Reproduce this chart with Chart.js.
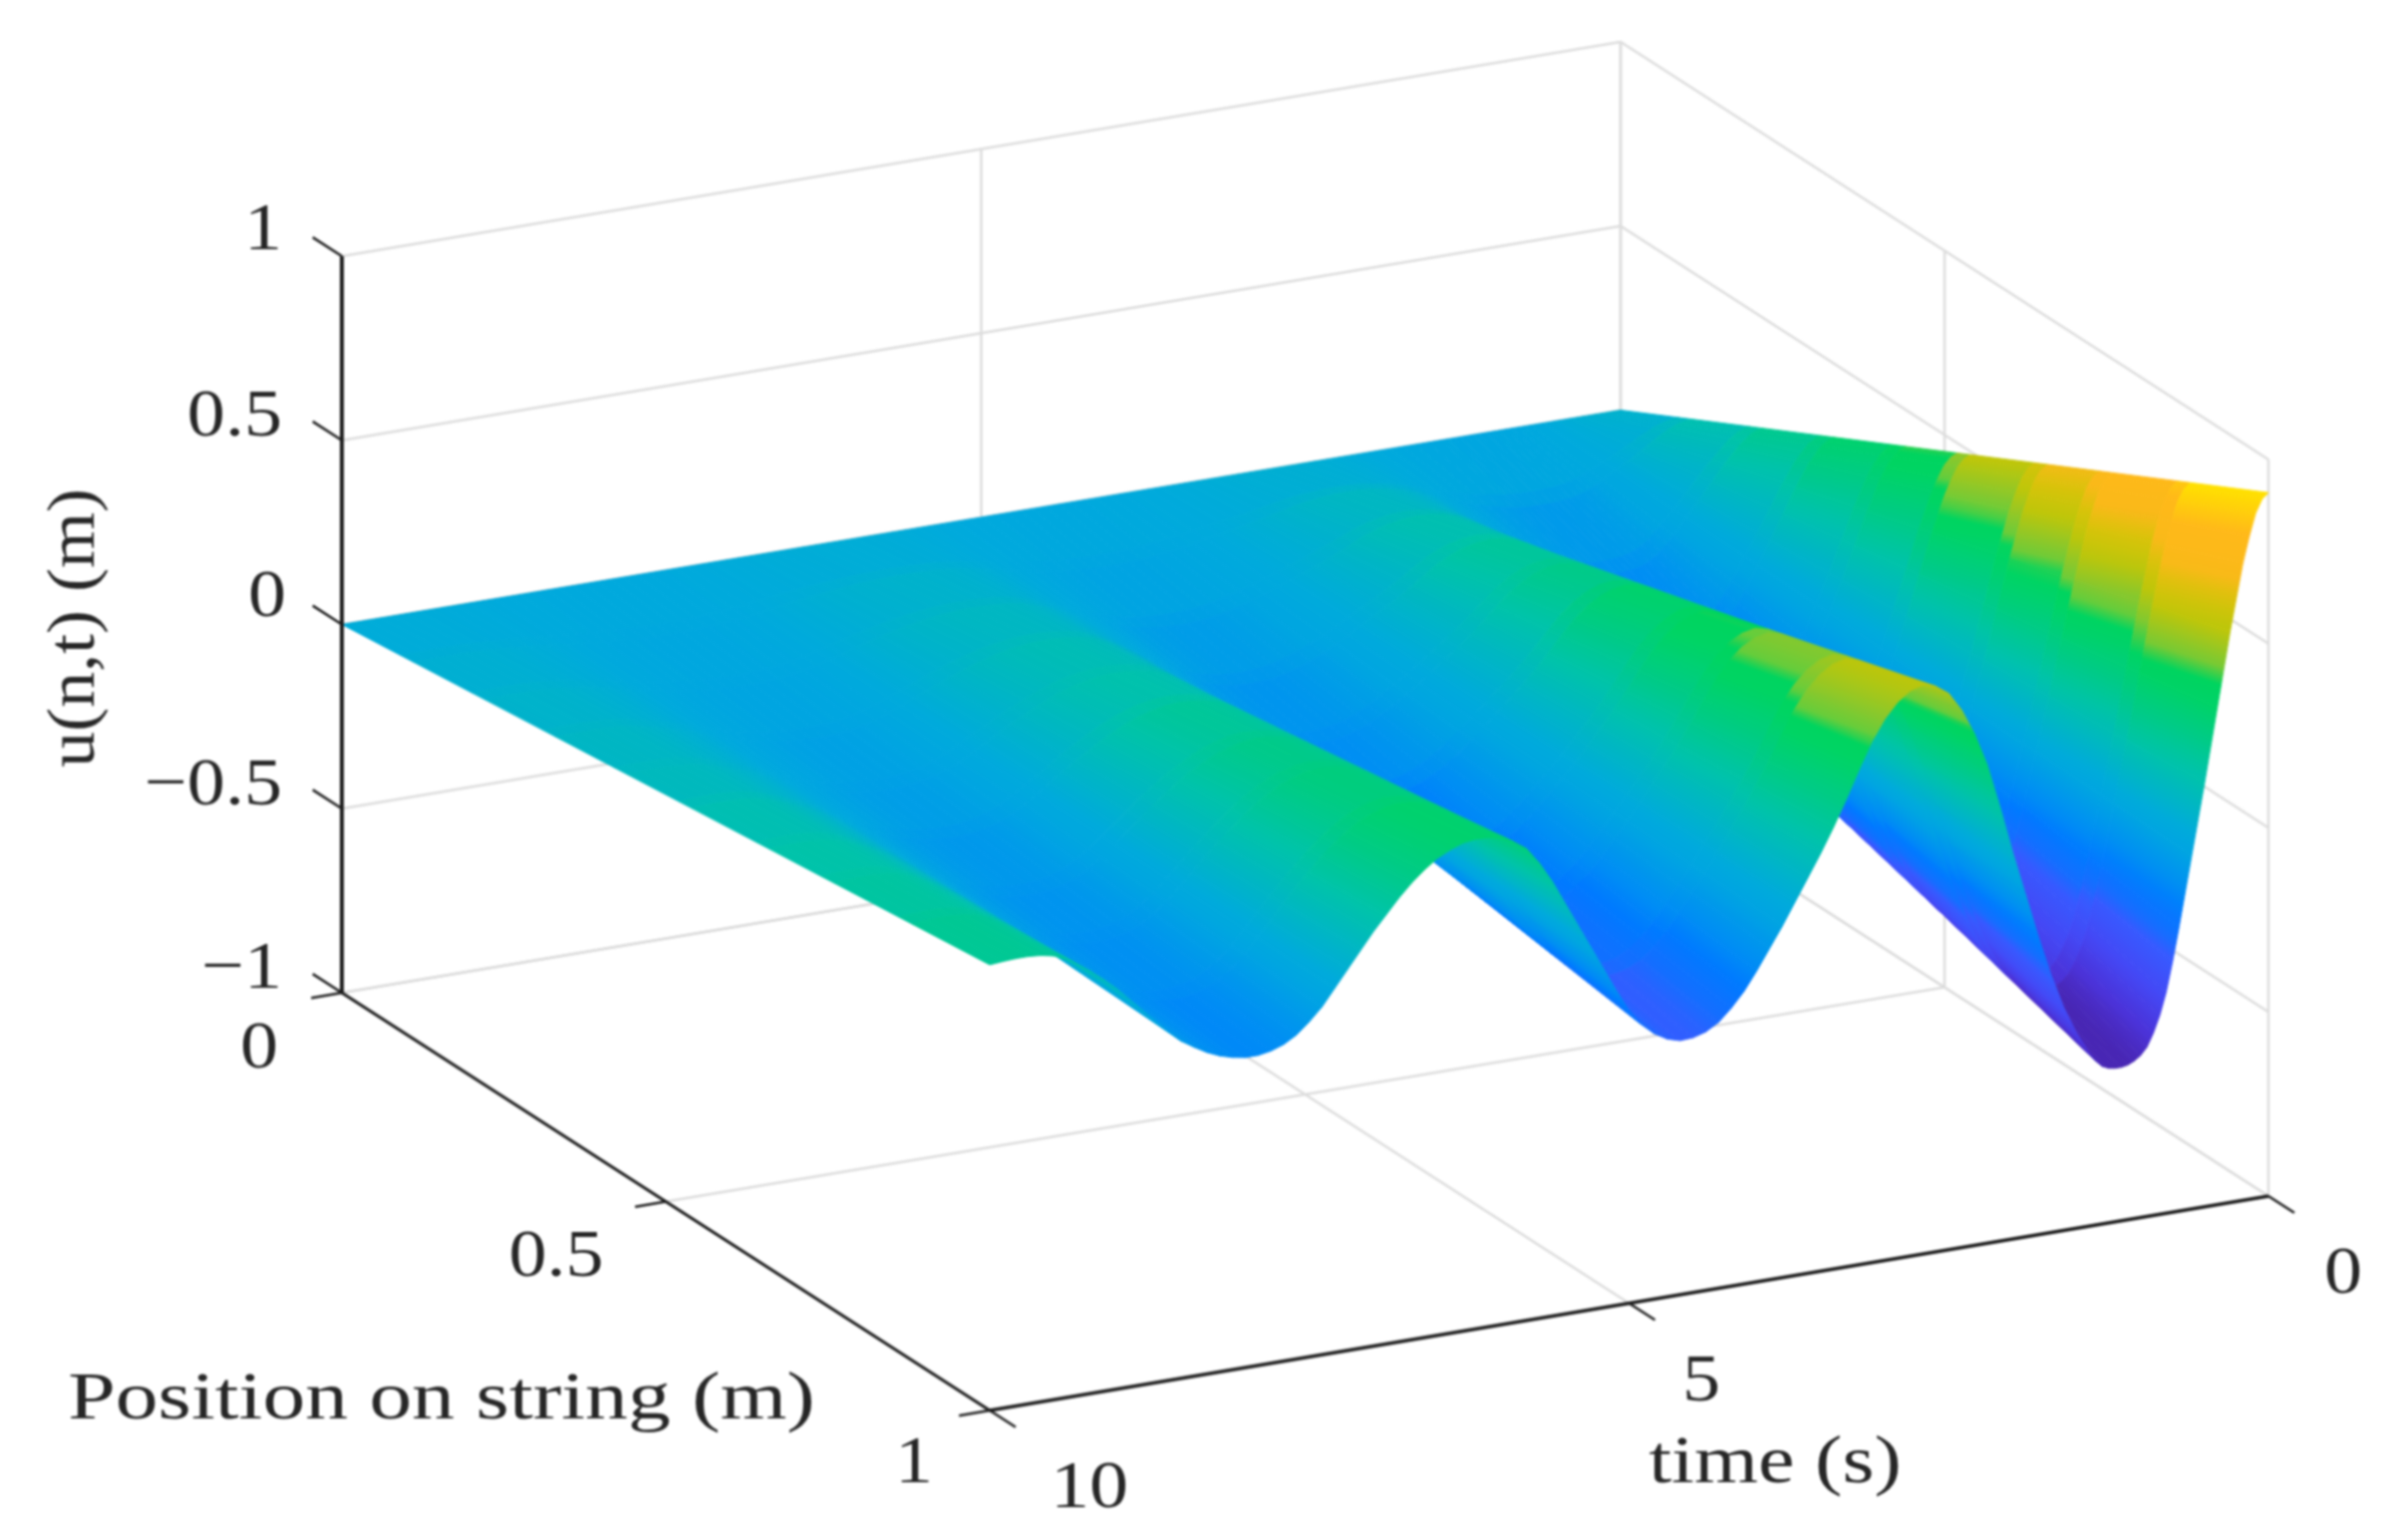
<!DOCTYPE html>
<html>
<head>
<meta charset="utf-8">
<script src="https://cdn.jsdelivr.net/npm/chart.js@4"></script>
<style>
  html, body { margin: 0; padding: 0; background: #fff; }
  #myChart { display: block; filter: blur(1px); }
</style>
</head>
<body>
<canvas id="myChart" width="2409" height="1545"></canvas>
<script>
// values
var positionTicks = [0, 0.5, 1];
var timeTicks = [0, 5, 10];
var displacementTicks = [-1, -0.5, 0, 0.5, 1];
var displacementLabels = ["\u22121", "\u22120.5", "0", "0.5", "1"];

// time samples (s), closer together around the sharp turns of the curve
var times = [
  0, 0.05, 0.1, 0.15, 0.2, 0.3, 0.4, 0.5, 0.6, 0.7,
  0.75, 0.8, 0.85, 0.9, 0.95, 1, 1.05, 1.1, 1.15, 1.2,
  1.25, 1.3, 1.35, 1.4, 1.5, 1.6, 1.7, 1.8, 1.9, 2,
  2.1, 2.2, 2.3, 2.4, 2.5, 2.6, 2.7, 2.8, 2.9, 3,
  3.1, 3.2, 3.3, 3.4, 3.5, 3.6, 3.7, 3.8, 3.9, 4,
  4.1, 4.2, 4.3, 4.4, 4.5, 4.6, 4.7, 4.8, 4.9, 5,
  5.1, 5.2, 5.3, 5.4, 5.5, 5.6, 5.7, 5.8, 5.9, 6,
  6.1, 6.2, 6.3, 6.4, 6.5, 6.6, 6.7, 6.8, 6.9, 7,
  7.1, 7.2, 7.3, 7.4, 7.5, 7.6, 7.7, 7.8, 7.9, 8,
  8.1, 8.2, 8.3, 8.4, 8.5, 8.6, 8.7, 8.8, 8.9, 9,
  9.1, 9.2, 9.3, 9.4, 9.5, 9.6, 9.7, 9.8, 9.9, 10
];

// u at the free end of the string (position 1), one value per time sample
var endDisplacement = [
  0.91, 0.895, 0.86, 0.80, 0.73, 0.55, 0.35, 0.15, -0.04, -0.23,
  -0.32, -0.40, -0.46, -0.505, -0.54, -0.56, -0.572, -0.58, -0.583, -0.583,
  -0.58, -0.572, -0.555, -0.53, -0.47, -0.395, -0.30, -0.19, -0.07, 0.05,
  0.18, 0.30, 0.39, 0.46, 0.51, 0.535, 0.545, 0.535, 0.51, 0.47,
  0.415, 0.345, 0.27, 0.20, 0.135, 0.075, 0.015, -0.045, -0.10, -0.155,
  -0.205, -0.245, -0.278, -0.298, -0.308, -0.31, -0.30, -0.28, -0.25, -0.205,
  -0.145, -0.08, -0.015, 0.05, 0.115, 0.18, 0.235, 0.28, 0.305, 0.32,
  0.328, 0.33, 0.325, 0.312, 0.295, 0.27, 0.24, 0.205, 0.165, 0.125,
  0.08, 0.035, -0.01, -0.055, -0.09, -0.12, -0.14, -0.152, -0.158, -0.158,
  -0.152, -0.142, -0.127, -0.107, -0.085, -0.055, -0.02, 0.015, 0.05, 0.085,
  0.115, 0.143, 0.168, 0.19, 0.205, 0.212, 0.215, 0.215, 0.213, 0.21
];

// string positions of the surface columns, and the position that sets each column's colour
var positions = [0, 0.09, 0.11, 0.2, 0.22, 0.31, 0.33, 0.42, 0.44, 0.52, 0.54, 0.64, 0.66, 0.74, 0.76, 0.86, 0.88, 1];
var colourPositions = [0.05, 0.1, 0.15, 0.2, 0.25, 0.305, 0.36, 0.405, 0.45, 0.53, 0.61, 0.675, 0.74, 0.795, 0.85, 0.925, 1];

// colour map of the surface
var colourLevels = [-0.58, -0.52, -0.42, -0.32, -0.27, -0.2, -0.15, -0.04, 0, 0.157, 0.25, 0.36, 0.40, 0.425, 0.47, 0.55, 0.62, 0.69, 0.80, 0.91];
var colourRed    = [72, 75, 68, 55, 20, 0, 0, 0, 0, 0, 0, 0, 0, 100, 135, 190, 215, 250, 255, 255];
var colourGreen  = [38, 50, 72, 90, 110, 122, 140, 165, 170, 195, 203, 212, 212, 205, 200, 198, 195, 185, 185, 225];
var colourBlue   = [180, 215, 245, 255, 255, 255, 245, 225, 220, 170, 135, 100, 95, 60, 45, 10, 10, 25, 25, 0];

// view of the 3d box: where one corner lands and how far each axis moves the picture
function project(n, t, u) {
  var back = 10 - t;
  return {
    x: 343 + 650 * n + 128.3 * back,
    y: 996 + 419 * n - 21.5 * back - 369.5 * (u + 1)
  };
}

function colourFor(value) {
  var i = 0;
  while (i < colourLevels.length - 2 && value > colourLevels[i + 1]) i++;
  var f = (value - colourLevels[i]) / (colourLevels[i + 1] - colourLevels[i]);
  f = Math.max(0, Math.min(1, f));
  var r = colourRed[i] + (colourRed[i + 1] - colourRed[i]) * f;
  var g = colourGreen[i] + (colourGreen[i + 1] - colourGreen[i]) * f;
  var b = colourBlue[i] + (colourBlue[i + 1] - colourBlue[i]) * f;
  return "rgb(" + Math.round(r) + "," + Math.round(g) + "," + Math.round(b) + ")";
}

function edge(points, colour, width) {
  return {
    type: "line",
    data: points,
    borderColor: colour,
    borderWidth: width,
    pointRadius: 0,
    fill: false,
    tension: 0
  };
}

// colour runs from one time edge of the cell to the other, through the chart's scales
function cellPaint(points, shade0, shade1) {
  return function (context) {
    var chart = context.chart;
    var sx = chart.scales.x, sy = chart.scales.y;
    if (!sx || !sy) return colourFor(shade0);
    var px = points.map(function (p) {
      return { x: sx.getPixelForValue(p.x), y: sy.getPixelForValue(p.y) };
    });
    var ax = (px[0].x + px[1].x) / 2, ay = (px[0].y + px[1].y) / 2;
    var bx = (px[2].x + px[3].x) / 2, by = (px[2].y + px[3].y) / 2;
    var dx = px[1].x - px[0].x, dy = px[1].y - px[0].y;
    var len = Math.sqrt(dx * dx + dy * dy);
    var nx = -dy / len, ny = dx / len;
    var d = (bx - ax) * nx + (by - ay) * ny;
    // scales have no size yet on the first pass, or the cell is seen edge on
    if (!isFinite(d) || !isFinite(ax) || !isFinite(ay) || Math.abs(d) < 0.5) return colourFor((shade0 + shade1) / 2);
    var g = chart.ctx.createLinearGradient(ax, ay, ax + nx * d, ay + ny * d);
    for (var s = 0; s <= 4; s++) {
      g.addColorStop(s / 4, colourFor(shade0 + (shade1 - shade0) * s / 4));
    }
    return g;
  };
}

function cell(points, shade0, shade1) {
  var paint = cellPaint(points, shade0, shade1);
  return {
    type: "line",
    data: points,
    borderColor: paint,
    backgroundColor: paint,
    borderWidth: 1,
    pointRadius: 0,
    fill: "shape",
    tension: 0
  };
}

// painted back to front, the chart draws the first dataset last
var layers = [];
var gridColour = "#dcdcdc";
var axisColour = "#1c1c1c";

displacementTicks.forEach(function (u) {
  layers.push(edge([project(0, 10, u), project(0, 0, u), project(1, 0, u)], gridColour, 2.5));
});
timeTicks.forEach(function (t) {
  layers.push(edge([project(1, t, -1), project(0, t, -1), project(0, t, 1)], gridColour, 2.5));
});
positionTicks.forEach(function (n) {
  layers.push(edge([project(n, 10, -1), project(n, 0, -1), project(n, 0, 1)], gridColour, 2.5));
});

for (var i = 0; i < times.length - 1; i++) {
  for (var j = 0; j < positions.length - 1; j++) {
    var n0 = positions[j], n1 = positions[j + 1];
    var f0 = endDisplacement[i], f1 = endDisplacement[i + 1];
    layers.push(cell([
      project(n0, times[i], n0 * f0),
      project(n1, times[i], n1 * f0),
      project(n1, times[i + 1], n1 * f1),
      project(n0, times[i + 1], n0 * f1),
      project(n0, times[i], n0 * f0)
    ], colourPositions[j] * f0, colourPositions[j] * f1));
  }
}

// black axes and their tick marks
layers.push(edge([project(0, 10, -1), project(0, 10, 1)], axisColour, 4));
layers.push(edge([project(0, 10, -1), project(1, 10, -1)], axisColour, 3));
layers.push(edge([project(1, 10, -1), project(1, 0, -1)], axisColour, 3.5));
displacementTicks.forEach(function (u) {
  layers.push(edge([project(0, 10, u), project(-0.045, 10, u)], axisColour, 2.5));
});
positionTicks.forEach(function (n) {
  layers.push(edge([project(n, 10, -1), project(n, 10.24, -1)], axisColour, 2.5));
});
timeTicks.forEach(function (t) {
  layers.push(edge([project(1, t, -1), project(1.04, t, -1)], axisColour, 2.5));
});

// tick labels and axis titles, stretched like the wide serif of the original
function putText(ctx, text, x, y, align, stretch, angle) {
  ctx.save();
  ctx.translate(x, y);
  if (angle) ctx.rotate(angle);
  ctx.scale(stretch, 1);
  ctx.textAlign = align;
  ctx.textBaseline = "alphabetic";
  ctx.fillText(text, 0, 0);
  ctx.restore();
}

var textPlugin = {
  id: "boxText",
  afterDraw: function (chart) {
    var ctx = chart.ctx;
    ctx.save();
    ctx.fillStyle = "#262626";
    ctx.font = "68px 'Liberation Serif'";

    var baselines = [991, 807, 618, 437, 250];
    displacementTicks.forEach(function (u, k) {
      putText(ctx, displacementLabels[k], u === 0 ? 287 : 283, baselines[k], "right", 1.12);
    });

    putText(ctx, "0", 260, 1071, "center", 1.12);
    putText(ctx, "0.5", 558, 1280, "center", 1.12);
    putText(ctx, "1", 917, 1487, "center", 1.12);
    putText(ctx, "10", 1093, 1512, "center", 1.15);
    putText(ctx, "5", 1707, 1405, "center", 1.12);
    putText(ctx, "0", 2351, 1297, "center", 1.12);

    putText(ctx, "Position on string (m)", 443, 1423, "center", 1.26);
    putText(ctx, "time (s)", 1781, 1487, "center", 1.21);
    putText(ctx, "u(n,t) (m)", 94, 630, "center", 1.06, -Math.PI / 2);
    ctx.restore();
  }
};

var chart = new Chart(document.getElementById("myChart").getContext("2d"), {
  type: "line",
  data: { datasets: layers.reverse() },
  options: {
    responsive: false,
    animation: false,
    events: [],
    layout: { padding: 0 },
    plugins: { legend: { display: false }, tooltip: { enabled: false } },
    scales: {
      x: { type: "linear", min: 0, max: 2409, display: false },
      y: { type: "linear", min: 0, max: 1545, reverse: true, display: false }
    }
  },
  plugins: [textPlugin]
});
</script>
</body>
</html>
